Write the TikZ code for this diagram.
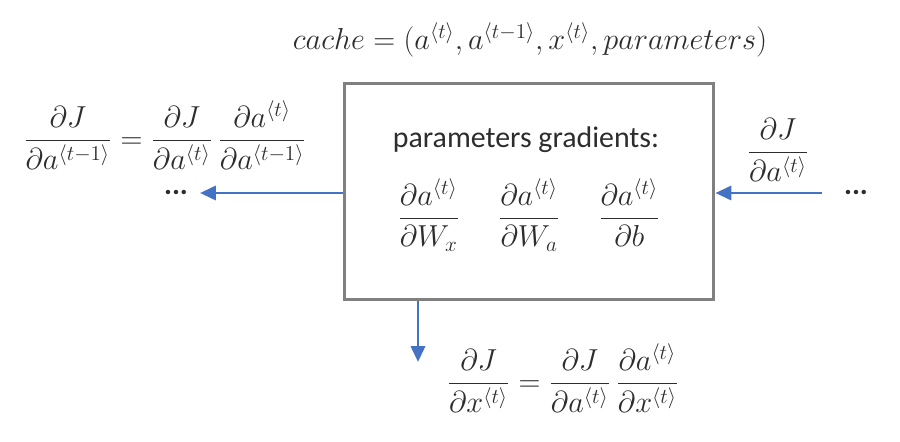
\documentclass[tikz,border=0pt]{standalone}
\usepackage{fontspec}
\setmainfont{Carlito}
\usetikzlibrary{arrows.meta}
\definecolor{flowblue}{RGB}{68,114,196}
\definecolor{boxgray}{RGB}{128,128,128}
\definecolor{inkgray}{RGB}{45,45,45}
\newcommand{\at}{a^{\langle t\rangle}}
\newcommand{\atm}{a^{\langle t-1\rangle}}
\newcommand{\xt}{x^{\langle t\rangle}}
\begin{document}
\begin{tikzpicture}[x=0.02cm,y=-0.02cm,
  every node/.style={font=\fontsize{17}{20}\selectfont, inner sep=0pt, text=inkgray},
  cell/.style={draw=boxgray, line width=1.7pt, minimum width=7.4cm, minimum height=4.34cm},
  dotsmark/.style={font=\fontsize{17}{20}\selectfont\bfseries, text height=3pt, text depth=0pt},
  flow/.style={-{Triangle[length=9pt,width=8pt]}, draw=flowblue, fill=flowblue, line width=1.7pt}]
\useasboundingbox (0,0) rectangle (900,442);

\node (cache) at (530,40) {$cache = (\at, \atm, \xt, parameters)$};

\node[cell] (box) at (529,191.5) {};
\node (title) at (526,140) {parameters gradients:};
\node (grads) at (529,215) {$\displaystyle \frac{\partial \at}{\partial W_x}\quad\; \frac{\partial \at}{\partial W_a}\quad\; \frac{\partial \at}{\partial b}$};

\node (dprev) at (165,135) {$\displaystyle \frac{\partial J}{\partial \atm} = \frac{\partial J}{\partial \at}\,\frac{\partial \at}{\partial \atm}$};
\node[dotsmark] (ldots) at (176,192) {...};
\coordinate (lend) at (200,193);

\node (dnext) at (778,150) {$\displaystyle \frac{\partial J}{\partial \at}$};
\node[dotsmark] (rdots) at (856,192) {...};
\coordinate (rstart) at (822,193);

\node (dx) at (563,378) {$\displaystyle \frac{\partial J}{\partial \xt} = \frac{\partial J}{\partial \at}\,\frac{\partial \at}{\partial \xt}$};
\coordinate (dend) at (418,362);

\draw[flow] (box.west |- lend) -- (lend);
\draw[flow] (rstart) -- (box.east |- rstart);
\draw[flow] (box.south -| dend) -- (dend);

\end{tikzpicture}
\end{document}
